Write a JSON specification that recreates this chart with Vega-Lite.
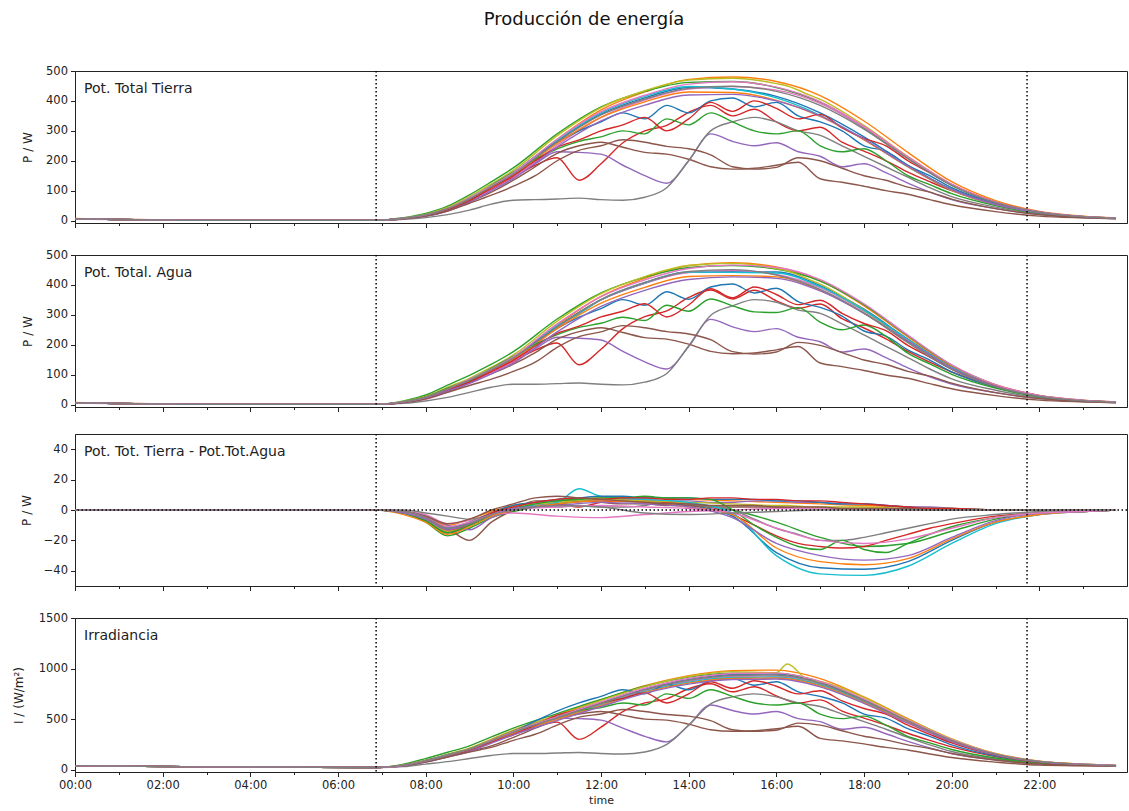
{
"$schema":"https://vega.github.io/schema/vega-lite/v6.json",
"padding":{"left":11,"top":10,"right":1,"bottom":0},
"title":{"text":"Producción de energía","fontSize":18,"font":"DejaVu Sans","fontWeight":"normal","color":"#111","anchor":"middle","offset":36,"dx":14},
"spacing":19,
"config":{"font":"DejaVu Sans","view":{"stroke":"#222","strokeWidth":1},
 "axis":{"grid":false,"domainColor":"#222","tickColor":"#222","labelColor":"#222","labelFontSize":11.5,"titleFontSize":12,"titleFontWeight":"normal","titleColor":"#222","labelFont":"DejaVu Sans","titleFont":"DejaVu Sans","labelPadding":3,"tickSize":4.5,"labelOverlap":false}},
"data":{"values":[
{"d":1,"t":0,"a":6,"b":6,"c":0,"i":40},{"d":1,"t":3,"a":1,"b":1,"c":0,"i":28},{"d":1,"t":6.9,"a":1,"b":1,"c":0,"i":22},{"d":1,"t":7.5,"a":8,"b":10,"c":-2,"i":43},{"d":1,"t":8,"a":19,"b":26,"c":-7,"i":88},{"d":1,"t":8.5,"a":40,"b":55,"c":-15,"i":144},{"d":1,"t":9,"a":74,"b":84,"c":-10,"i":202},{"d":1,"t":9.5,"a":114,"b":118,"c":-4,"i":288},{"d":1,"t":10,"a":157,"b":157,"c":0,"i":374},{"d":1,"t":11,"a":266,"b":262,"c":4,"i":518},{"d":1,"t":12,"a":356,"b":350,"c":6,"i":662},{"d":1,"t":13,"a":410,"b":405,"c":5,"i":797},{"d":1,"t":14,"a":445,"b":442,"c":3,"i":893},{"d":1,"t":15,"a":440,"b":444,"c":-4,"i":941},{"d":1,"t":16,"a":415,"b":443,"c":-28,"i":946},{"d":1,"t":17,"a":360,"b":398,"c":-38,"i":864},{"d":1,"t":18,"a":280,"b":319,"c":-39,"i":691},{"d":1,"t":19,"a":185,"b":219,"c":-34,"i":485},{"d":1,"t":20,"a":105,"b":125,"c":-20,"i":293},{"d":1,"t":21,"a":55,"b":63,"c":-8,"i":154},{"d":1,"t":22,"a":27,"b":30,"c":-3,"i":82},{"d":1,"t":23,"a":12,"b":13,"c":-1,"i":53},{"d":1,"t":23.75,"a":8,"b":8,"c":0,"i":41},
{"d":2,"t":0,"a":7,"b":7,"c":0,"i":40},{"d":2,"t":3,"a":1,"b":1,"c":0,"i":28},{"d":2,"t":6.9,"a":1,"b":1,"c":0,"i":22},{"d":2,"t":7.5,"a":7,"b":8,"c":-1,"i":45},{"d":2,"t":8,"a":18,"b":22,"c":-4,"i":92},{"d":2,"t":8.5,"a":38,"b":48,"c":-10,"i":150},{"d":2,"t":9,"a":72,"b":78,"c":-6,"i":210},{"d":2,"t":9.5,"a":114,"b":115,"c":-1,"i":300},{"d":2,"t":10,"a":158,"b":155,"c":3,"i":390},{"d":2,"t":11,"a":272,"b":266,"c":6,"i":540},{"d":2,"t":12,"a":370,"b":362,"c":8,"i":690},{"d":2,"t":13,"a":430,"b":422,"c":8,"i":830},{"d":2,"t":14,"a":472,"b":465,"c":7,"i":930},{"d":2,"t":15,"a":480,"b":474,"c":6,"i":980},{"d":2,"t":16,"a":465,"b":460,"c":5,"i":985},{"d":2,"t":17,"a":418,"b":414,"c":4,"i":900},{"d":2,"t":18,"a":333,"b":330,"c":3,"i":720},{"d":2,"t":19,"a":228,"b":226,"c":2,"i":505},{"d":2,"t":20,"a":130,"b":129,"c":1,"i":305},{"d":2,"t":21,"a":67,"b":67,"c":0,"i":160},{"d":2,"t":22,"a":31,"b":31,"c":0,"i":85},{"d":2,"t":23,"a":15,"b":15,"c":0,"i":55},{"d":2,"t":23.75,"a":9,"b":9,"c":0,"i":42},
{"d":3,"t":0,"a":6,"b":6,"c":0,"i":40},{"d":3,"t":3,"a":1,"b":1,"c":0,"i":28},{"d":3,"t":6.9,"a":1,"b":1,"c":0,"i":22},{"d":3,"t":7.5,"a":10,"b":12,"c":-2,"i":55},{"d":3,"t":8,"a":24,"b":32,"c":-8,"i":110},{"d":3,"t":8.5,"a":48,"b":65,"c":-17,"i":172},{"d":3,"t":9,"a":86,"b":98,"c":-12,"i":235},{"d":3,"t":9.5,"a":130,"b":135,"c":-5,"i":325},{"d":3,"t":10,"a":176,"b":177,"c":-1,"i":410},{"d":3,"t":11,"a":290,"b":286,"c":4,"i":555},{"d":3,"t":12,"a":380,"b":373,"c":7,"i":695},{"d":3,"t":13,"a":432,"b":426,"c":6,"i":825},{"d":3,"t":14,"a":462,"b":458,"c":4,"i":915},{"d":3,"t":15,"a":465,"b":465,"c":0,"i":955},{"d":3,"t":16,"a":445,"b":453,"c":-8,"i":955},{"d":3,"t":17,"a":395,"b":413,"c":-18,"i":870},{"d":3,"t":18,"a":310,"b":334,"c":-24,"i":690},{"d":3,"t":19,"a":208,"b":230,"c":-22,"i":480},{"d":3,"t":20,"a":118,"b":132,"c":-14,"i":288},{"d":3,"t":21,"a":60,"b":66,"c":-6,"i":150},{"d":3,"t":22,"a":28,"b":30,"c":-2,"i":80},{"d":3,"t":23,"a":13,"b":14,"c":-1,"i":52},{"d":3,"t":23.75,"a":8,"b":8,"c":0,"i":41},
{"d":4,"t":0,"a":6,"b":6,"c":0,"i":40},{"d":4,"t":3,"a":1,"b":1,"c":0,"i":28},{"d":4,"t":6.9,"a":1,"b":1,"c":0,"i":22},{"d":4,"t":7.5,"a":7,"b":9,"c":-2,"i":42},{"d":4,"t":8,"a":17,"b":23,"c":-6,"i":85},{"d":4,"t":8.5,"a":36,"b":50,"c":-14,"i":140},{"d":4,"t":9,"a":66,"b":75,"c":-9,"i":195},{"d":4,"t":9.5,"a":105,"b":108,"c":-3,"i":270},{"d":4,"t":10,"a":145,"b":144,"c":1,"i":345},{"d":4,"t":10.5,"a":185,"b":182,"c":3,"i":420},{"d":4,"t":11,"a":210,"b":206,"c":4,"i":470},{"d":4,"t":11.5,"a":135,"b":133,"c":2,"i":300},{"d":4,"t":12,"a":190,"b":185,"c":5,"i":420},{"d":4,"t":12.5,"a":260,"b":254,"c":6,"i":575},{"d":4,"t":13,"a":300,"b":294,"c":6,"i":660},{"d":4,"t":13.5,"a":318,"b":313,"c":5,"i":700},{"d":4,"t":14,"a":362,"b":358,"c":4,"i":800},{"d":4,"t":14.5,"a":385,"b":383,"c":2,"i":850},{"d":4,"t":15,"a":350,"b":353,"c":-3,"i":770},{"d":4,"t":15.5,"a":372,"b":382,"c":-10,"i":820},{"d":4,"t":16,"a":330,"b":347,"c":-17,"i":730},{"d":4,"t":16.5,"a":300,"b":322,"c":-22,"i":660},{"d":4,"t":17,"a":312,"b":336,"c":-24,"i":690},{"d":4,"t":17.5,"a":262,"b":287,"c":-25,"i":580},{"d":4,"t":18,"a":232,"b":256,"c":-24,"i":510},{"d":4,"t":18.5,"a":200,"b":220,"c":-20,"i":440},{"d":4,"t":19,"a":162,"b":178,"c":-16,"i":360},{"d":4,"t":19.5,"a":130,"b":142,"c":-12,"i":290},{"d":4,"t":20,"a":100,"b":109,"c":-9,"i":225},{"d":4,"t":21,"a":55,"b":59,"c":-4,"i":130},{"d":4,"t":22,"a":26,"b":28,"c":-2,"i":70},{"d":4,"t":23,"a":12,"b":13,"c":-1,"i":50},{"d":4,"t":23.75,"a":8,"b":8,"c":0,"i":40},
{"d":5,"t":0,"a":6,"b":6,"c":0,"i":40},{"d":5,"t":3,"a":1,"b":1,"c":0,"i":28},{"d":5,"t":6.9,"a":1,"b":1,"c":0,"i":22},{"d":5,"t":7.5,"a":7,"b":8,"c":-1,"i":42},{"d":5,"t":8,"a":17,"b":21,"c":-4,"i":85},{"d":5,"t":8.5,"a":36,"b":46,"c":-10,"i":140},{"d":5,"t":9,"a":66,"b":79,"c":-13,"i":195},{"d":5,"t":9.5,"a":110,"b":115,"c":-5,"i":275},{"d":5,"t":10,"a":150,"b":150,"c":0,"i":355},{"d":5,"t":10.5,"a":190,"b":187,"c":3,"i":430},{"d":5,"t":11,"a":230,"b":225,"c":5,"i":510},{"d":5,"t":11.5,"a":228,"b":222,"c":6,"i":505},{"d":5,"t":12,"a":222,"b":216,"c":6,"i":490},{"d":5,"t":12.5,"a":185,"b":178,"c":7,"i":410},{"d":5,"t":13,"a":150,"b":143,"c":7,"i":330},{"d":5,"t":13.5,"a":125,"b":119,"c":6,"i":275},{"d":5,"t":14,"a":200,"b":194,"c":6,"i":440},{"d":5,"t":14.5,"a":290,"b":285,"c":5,"i":640},{"d":5,"t":15,"a":265,"b":260,"c":5,"i":585},{"d":5,"t":15.5,"a":250,"b":244,"c":6,"i":550},{"d":5,"t":16,"a":260,"b":254,"c":6,"i":575},{"d":5,"t":16.5,"a":230,"b":225,"c":5,"i":505},{"d":5,"t":17,"a":215,"b":210,"c":5,"i":475},{"d":5,"t":17.5,"a":180,"b":176,"c":4,"i":400},{"d":5,"t":18,"a":190,"b":186,"c":4,"i":420},{"d":5,"t":18.5,"a":160,"b":157,"c":3,"i":355},{"d":5,"t":19,"a":125,"b":123,"c":2,"i":280},{"d":5,"t":19.5,"a":95,"b":93,"c":2,"i":215},{"d":5,"t":20,"a":70,"b":69,"c":1,"i":160},{"d":5,"t":21,"a":40,"b":40,"c":0,"i":95},{"d":5,"t":22,"a":20,"b":20,"c":0,"i":55},{"d":5,"t":23,"a":10,"b":10,"c":0,"i":45},{"d":5,"t":23.75,"a":7,"b":7,"c":0,"i":38},
{"d":6,"t":0,"a":6,"b":6,"c":0,"i":40},{"d":6,"t":3,"a":1,"b":1,"c":0,"i":28},{"d":6,"t":6.9,"a":1,"b":1,"c":0,"i":22},{"d":6,"t":7.5,"a":7,"b":8,"c":-1,"i":40},{"d":6,"t":8,"a":16,"b":21,"c":-5,"i":82},{"d":6,"t":8.5,"a":34,"b":46,"c":-12,"i":135},{"d":6,"t":9,"a":62,"b":82,"c":-20,"i":185},{"d":6,"t":9.5,"a":95,"b":103,"c":-8,"i":235},{"d":6,"t":10,"a":135,"b":135,"c":0,"i":320},{"d":6,"t":10.5,"a":180,"b":174,"c":6,"i":410},{"d":6,"t":11,"a":225,"b":219,"c":6,"i":500},{"d":6,"t":11.5,"a":250,"b":244,"c":6,"i":550},{"d":6,"t":12,"a":262,"b":257,"c":5,"i":575},{"d":6,"t":12.5,"a":245,"b":241,"c":4,"i":540},{"d":6,"t":13,"a":228,"b":224,"c":4,"i":500},{"d":6,"t":13.5,"a":222,"b":219,"c":3,"i":490},{"d":6,"t":14,"a":205,"b":202,"c":3,"i":450},{"d":6,"t":14.5,"a":180,"b":178,"c":2,"i":395},{"d":6,"t":15,"a":172,"b":170,"c":2,"i":380},{"d":6,"t":15.5,"a":175,"b":173,"c":2,"i":385},{"d":6,"t":16,"a":185,"b":183,"c":2,"i":405},{"d":6,"t":16.5,"a":195,"b":194,"c":1,"i":430},{"d":6,"t":17,"a":140,"b":139,"c":1,"i":310},{"d":6,"t":17.5,"a":128,"b":127,"c":1,"i":285},{"d":6,"t":18,"a":115,"b":114,"c":1,"i":255},{"d":6,"t":18.5,"a":100,"b":99,"c":1,"i":220},{"d":6,"t":19,"a":88,"b":88,"c":0,"i":195},{"d":6,"t":19.5,"a":70,"b":70,"c":0,"i":155},{"d":6,"t":20,"a":53,"b":53,"c":0,"i":120},{"d":6,"t":21,"a":30,"b":30,"c":0,"i":75},{"d":6,"t":22,"a":15,"b":15,"c":0,"i":45},{"d":6,"t":23,"a":9,"b":9,"c":0,"i":38},{"d":6,"t":23.75,"a":6,"b":6,"c":0,"i":35},
{"d":7,"t":0,"a":6,"b":6,"c":0,"i":40},{"d":7,"t":3,"a":1,"b":1,"c":0,"i":28},{"d":7,"t":6.9,"a":1,"b":1,"c":0,"i":22},{"d":7,"t":7.5,"a":6,"b":7,"c":-1,"i":38},{"d":7,"t":8,"a":15,"b":18,"c":-3,"i":78},{"d":7,"t":8.5,"a":33,"b":42,"c":-9,"i":130},{"d":7,"t":9,"a":64,"b":71,"c":-7,"i":185},{"d":7,"t":9.5,"a":102,"b":105,"c":-3,"i":270},{"d":7,"t":10,"a":143,"b":145,"c":-2,"i":355},{"d":7,"t":11,"a":252,"b":256,"c":-4,"i":500},{"d":7,"t":12,"a":345,"b":350,"c":-5,"i":645},{"d":7,"t":13,"a":403,"b":406,"c":-3,"i":780},{"d":7,"t":14,"a":440,"b":441,"c":-1,"i":874},{"d":7,"t":15,"a":448,"b":448,"c":0,"i":921},{"d":7,"t":16,"a":436,"b":435,"c":1,"i":926},{"d":7,"t":17,"a":392,"b":391,"c":1,"i":846},{"d":7,"t":18,"a":312,"b":312,"c":0,"i":677},{"d":7,"t":19,"a":214,"b":214,"c":0,"i":475},{"d":7,"t":20,"a":122,"b":122,"c":0,"i":287},{"d":7,"t":21,"a":62,"b":62,"c":0,"i":150},{"d":7,"t":22,"a":29,"b":29,"c":0,"i":80},{"d":7,"t":23,"a":13,"b":13,"c":0,"i":52},{"d":7,"t":23.75,"a":9,"b":9,"c":0,"i":40},
{"d":8,"t":0,"a":6,"b":6,"c":0,"i":40},{"d":8,"t":3,"a":1,"b":1,"c":0,"i":28},{"d":8,"t":6.9,"a":1,"b":1,"c":0,"i":22},{"d":8,"t":7.5,"a":4,"b":4,"c":0,"i":30},{"d":8,"t":8,"a":10,"b":12,"c":-2,"i":55},{"d":8,"t":8.5,"a":20,"b":24,"c":-4,"i":80},{"d":8,"t":9,"a":35,"b":41,"c":-6,"i":110},{"d":8,"t":9.5,"a":55,"b":58,"c":-3,"i":140},{"d":8,"t":10,"a":68,"b":68,"c":0,"i":160},{"d":8,"t":10.5,"a":70,"b":68,"c":2,"i":160},{"d":8,"t":11,"a":72,"b":70,"c":2,"i":165},{"d":8,"t":11.5,"a":75,"b":72,"c":3,"i":170},{"d":8,"t":12,"a":70,"b":68,"c":2,"i":160},{"d":8,"t":12.5,"a":68,"b":66,"c":2,"i":155},{"d":8,"t":13,"a":78,"b":75,"c":3,"i":175},{"d":8,"t":13.5,"a":110,"b":104,"c":6,"i":250},{"d":8,"t":14,"a":200,"b":196,"c":4,"i":440},{"d":8,"t":14.5,"a":300,"b":298,"c":2,"i":650},{"d":8,"t":15,"a":330,"b":330,"c":0,"i":720},{"d":8,"t":15.5,"a":345,"b":351,"c":-6,"i":750},{"d":8,"t":16,"a":330,"b":342,"c":-12,"i":720},{"d":8,"t":16.5,"a":300,"b":316,"c":-16,"i":660},{"d":8,"t":17,"a":285,"b":305,"c":-20,"i":625},{"d":8,"t":17.5,"a":250,"b":270,"c":-20,"i":550},{"d":8,"t":18,"a":215,"b":233,"c":-18,"i":475},{"d":8,"t":18.5,"a":180,"b":195,"c":-15,"i":400},{"d":8,"t":19,"a":145,"b":157,"c":-12,"i":320},{"d":8,"t":19.5,"a":110,"b":119,"c":-9,"i":245},{"d":8,"t":20,"a":80,"b":86,"c":-6,"i":180},{"d":8,"t":21,"a":45,"b":48,"c":-3,"i":105},{"d":8,"t":22,"a":22,"b":23,"c":-1,"i":60},{"d":8,"t":23,"a":11,"b":11,"c":0,"i":45},{"d":8,"t":23.75,"a":8,"b":8,"c":0,"i":38},
{"d":9,"t":0,"a":6,"b":6,"c":0,"i":40},{"d":9,"t":3,"a":1,"b":1,"c":0,"i":28},{"d":9,"t":6.9,"a":1,"b":1,"c":0,"i":22},{"d":9,"t":7.5,"a":9,"b":11,"c":-2,"i":46},{"d":9,"t":8,"a":21,"b":27,"c":-6,"i":94},{"d":9,"t":8.5,"a":44,"b":58,"c":-14,"i":152},{"d":9,"t":9,"a":80,"b":88,"c":-8,"i":212},{"d":9,"t":9.5,"a":123,"b":125,"c":-2,"i":300},{"d":9,"t":10,"a":168,"b":166,"c":2,"i":388},{"d":9,"t":11,"a":284,"b":279,"c":5,"i":535},{"d":9,"t":12,"a":378,"b":371,"c":7,"i":683},{"d":9,"t":13,"a":434,"b":428,"c":6,"i":822},{"d":9,"t":14,"a":470,"b":465,"c":5,"i":921},{"d":9,"t":15,"a":476,"b":472,"c":4,"i":970},{"d":9,"t":16,"a":458,"b":455,"c":3,"i":960},{"d":9,"t":16.25,"a":450,"b":447,"c":3,"i":1045},{"d":9,"t":16.75,"a":420,"b":418,"c":2,"i":880},{"d":9,"t":17,"a":405,"b":403,"c":2,"i":870},{"d":9,"t":18,"a":318,"b":316,"c":2,"i":713},{"d":9,"t":19,"a":214,"b":213,"c":1,"i":500},{"d":9,"t":20,"a":121,"b":120,"c":1,"i":302},{"d":9,"t":21,"a":62,"b":62,"c":0,"i":158},{"d":9,"t":22,"a":29,"b":29,"c":0,"i":84},{"d":9,"t":23,"a":14,"b":14,"c":0,"i":54},{"d":9,"t":23.75,"a":9,"b":9,"c":0,"i":42},
{"d":10,"t":0,"a":6,"b":6,"c":0,"i":40},{"d":10,"t":3,"a":1,"b":1,"c":0,"i":28},{"d":10,"t":6.9,"a":1,"b":1,"c":0,"i":22},{"d":10,"t":7.5,"a":8,"b":10,"c":-2,"i":42},{"d":10,"t":8,"a":19,"b":25,"c":-6,"i":86},{"d":10,"t":8.5,"a":40,"b":52,"c":-12,"i":140},{"d":10,"t":9,"a":75,"b":84,"c":-9,"i":195},{"d":10,"t":9.5,"a":115,"b":118,"c":-3,"i":279},{"d":10,"t":10,"a":158,"b":157,"c":1,"i":363},{"d":10,"t":11,"a":269,"b":264,"c":5,"i":502},{"d":10,"t":11.5,"a":318,"b":304,"c":14,"i":575},{"d":10,"t":12,"a":360,"b":351,"c":9,"i":642},{"d":10,"t":13,"a":415,"b":408,"c":7,"i":772},{"d":10,"t":14,"a":448,"b":443,"c":5,"i":865},{"d":10,"t":15,"a":440,"b":442,"c":-2,"i":911},{"d":10,"t":16,"a":410,"b":440,"c":-30,"i":916},{"d":10,"t":17,"a":352,"b":394,"c":-42,"i":837},{"d":10,"t":18,"a":272,"b":315,"c":-43,"i":670},{"d":10,"t":19,"a":180,"b":217,"c":-37,"i":470},{"d":10,"t":20,"a":102,"b":124,"c":-22,"i":284},{"d":10,"t":21,"a":53,"b":62,"c":-9,"i":149},{"d":10,"t":22,"a":26,"b":29,"c":-3,"i":79},{"d":10,"t":23,"a":12,"b":13,"c":-1,"i":51},{"d":10,"t":23.75,"a":8,"b":8,"c":0,"i":40},
{"d":11,"t":0,"a":6,"b":6,"c":0,"i":40},{"d":11,"t":3,"a":1,"b":1,"c":0,"i":28},{"d":11,"t":6.9,"a":1,"b":1,"c":0,"i":22},{"d":11,"t":7.5,"a":7,"b":8,"c":-1,"i":42},{"d":11,"t":8,"a":17,"b":22,"c":-5,"i":85},{"d":11,"t":8.5,"a":36,"b":48,"c":-12,"i":140},{"d":11,"t":9,"a":66,"b":74,"c":-8,"i":195},{"d":11,"t":9.5,"a":115,"b":117,"c":-2,"i":285},{"d":11,"t":10,"a":160,"b":157,"c":3,"i":375},{"d":11,"t":10.5,"a":215,"b":210,"c":5,"i":480},{"d":11,"t":11,"a":262,"b":255,"c":7,"i":580},{"d":11,"t":11.5,"a":300,"b":292,"c":8,"i":660},{"d":11,"t":12,"a":330,"b":321,"c":9,"i":725},{"d":11,"t":12.5,"a":360,"b":351,"c":9,"i":790},{"d":11,"t":13,"a":340,"b":332,"c":8,"i":750},{"d":11,"t":13.5,"a":385,"b":377,"c":8,"i":845},{"d":11,"t":14,"a":360,"b":352,"c":8,"i":790},{"d":11,"t":14.5,"a":400,"b":393,"c":7,"i":880},{"d":11,"t":15,"a":410,"b":403,"c":7,"i":900},{"d":11,"t":15.5,"a":380,"b":373,"c":7,"i":835},{"d":11,"t":16,"a":395,"b":389,"c":6,"i":870},{"d":11,"t":16.5,"a":350,"b":344,"c":6,"i":770},{"d":11,"t":17,"a":330,"b":325,"c":5,"i":725},{"d":11,"t":17.5,"a":300,"b":296,"c":4,"i":660},{"d":11,"t":18,"a":250,"b":246,"c":4,"i":550},{"d":11,"t":18.5,"a":232,"b":229,"c":3,"i":510},{"d":11,"t":19,"a":185,"b":183,"c":2,"i":405},{"d":11,"t":19.5,"a":150,"b":149,"c":1,"i":330},{"d":11,"t":20,"a":110,"b":109,"c":1,"i":245},{"d":11,"t":21,"a":58,"b":58,"c":0,"i":135},{"d":11,"t":22,"a":28,"b":28,"c":0,"i":72},{"d":11,"t":23,"a":13,"b":13,"c":0,"i":50},{"d":11,"t":23.75,"a":9,"b":9,"c":0,"i":40},
{"d":12,"t":0,"a":6,"b":6,"c":0,"i":40},{"d":12,"t":3,"a":1,"b":1,"c":0,"i":28},{"d":12,"t":6.9,"a":1,"b":1,"c":0,"i":22},{"d":12,"t":7.5,"a":7,"b":10,"c":-3,"i":41},{"d":12,"t":8,"a":18,"b":26,"c":-8,"i":85},{"d":12,"t":8.5,"a":38,"b":54,"c":-16,"i":138},{"d":12,"t":9,"a":72,"b":83,"c":-11,"i":193},{"d":12,"t":9.5,"a":110,"b":114,"c":-4,"i":276},{"d":12,"t":10,"a":152,"b":152,"c":0,"i":359},{"d":12,"t":11,"a":258,"b":254,"c":4,"i":497},{"d":12,"t":12,"a":345,"b":339,"c":6,"i":635},{"d":12,"t":13,"a":397,"b":392,"c":5,"i":764},{"d":12,"t":14,"a":430,"b":428,"c":2,"i":856},{"d":12,"t":15,"a":428,"b":431,"c":-3,"i":902},{"d":12,"t":16,"a":402,"b":427,"c":-25,"i":906},{"d":12,"t":17,"a":348,"b":382,"c":-34,"i":828},{"d":12,"t":18,"a":270,"b":306,"c":-36,"i":662},{"d":12,"t":19,"a":180,"b":212,"c":-32,"i":465},{"d":12,"t":20,"a":102,"b":121,"c":-19,"i":281},{"d":12,"t":21,"a":53,"b":61,"c":-8,"i":147},{"d":12,"t":22,"a":26,"b":29,"c":-3,"i":78},{"d":12,"t":23,"a":12,"b":13,"c":-1,"i":51},{"d":12,"t":23.75,"a":8,"b":8,"c":0,"i":40},
{"d":13,"t":0,"a":6,"b":6,"c":0,"i":40},{"d":13,"t":3,"a":1,"b":1,"c":0,"i":28},{"d":13,"t":6.9,"a":1,"b":1,"c":0,"i":22},{"d":13,"t":7.5,"a":8,"b":10,"c":-2,"i":46},{"d":13,"t":8,"a":19,"b":26,"c":-7,"i":92},{"d":13,"t":8.5,"a":40,"b":55,"c":-15,"i":150},{"d":13,"t":9,"a":72,"b":82,"c":-10,"i":205},{"d":13,"t":9.5,"a":118,"b":121,"c":-3,"i":290},{"d":13,"t":10,"a":162,"b":161,"c":1,"i":380},{"d":13,"t":10.5,"a":205,"b":201,"c":4,"i":450},{"d":13,"t":11,"a":240,"b":234,"c":6,"i":530},{"d":13,"t":11.5,"a":265,"b":258,"c":7,"i":585},{"d":13,"t":12,"a":280,"b":272,"c":8,"i":615},{"d":13,"t":12.5,"a":300,"b":292,"c":8,"i":660},{"d":13,"t":13,"a":290,"b":281,"c":9,"i":640},{"d":13,"t":13.5,"a":340,"b":332,"c":8,"i":750},{"d":13,"t":14,"a":320,"b":312,"c":8,"i":705},{"d":13,"t":14.5,"a":360,"b":353,"c":7,"i":790},{"d":13,"t":15,"a":330,"b":330,"c":0,"i":725},{"d":13,"t":15.5,"a":300,"b":310,"c":-10,"i":660},{"d":13,"t":16,"a":290,"b":308,"c":-18,"i":640},{"d":13,"t":16.5,"a":300,"b":324,"c":-24,"i":660},{"d":13,"t":17,"a":250,"b":276,"c":-26,"i":550},{"d":13,"t":17.5,"a":230,"b":250,"c":-20,"i":505},{"d":13,"t":18,"a":240,"b":266,"c":-26,"i":530},{"d":13,"t":18.5,"a":200,"b":228,"c":-28,"i":440},{"d":13,"t":19,"a":150,"b":172,"c":-22,"i":330},{"d":13,"t":19.5,"a":120,"b":136,"c":-16,"i":265},{"d":13,"t":20,"a":90,"b":101,"c":-11,"i":200},{"d":13,"t":21,"a":50,"b":55,"c":-5,"i":115},{"d":13,"t":22,"a":24,"b":26,"c":-2,"i":65},{"d":13,"t":23,"a":12,"b":13,"c":-1,"i":48},{"d":13,"t":23.75,"a":8,"b":8,"c":0,"i":38},
{"d":14,"t":0,"a":6,"b":6,"c":0,"i":40},{"d":14,"t":3,"a":1,"b":1,"c":0,"i":28},{"d":14,"t":6.9,"a":1,"b":1,"c":0,"i":22},{"d":14,"t":7.5,"a":7,"b":8,"c":-1,"i":42},{"d":14,"t":8,"a":17,"b":22,"c":-5,"i":85},{"d":14,"t":8.5,"a":36,"b":49,"c":-13,"i":140},{"d":14,"t":9,"a":66,"b":75,"c":-9,"i":195},{"d":14,"t":9.5,"a":110,"b":112,"c":-2,"i":270},{"d":14,"t":10,"a":150,"b":148,"c":2,"i":350},{"d":14,"t":10.5,"a":200,"b":195,"c":5,"i":440},{"d":14,"t":11,"a":245,"b":238,"c":7,"i":540},{"d":14,"t":11.5,"a":270,"b":262,"c":8,"i":595},{"d":14,"t":12,"a":300,"b":293,"c":7,"i":660},{"d":14,"t":12.5,"a":320,"b":312,"c":8,"i":705},{"d":14,"t":13,"a":345,"b":337,"c":8,"i":760},{"d":14,"t":13.5,"a":300,"b":293,"c":7,"i":660},{"d":14,"t":14,"a":340,"b":333,"c":7,"i":750},{"d":14,"t":14.5,"a":395,"b":387,"c":8,"i":870},{"d":14,"t":15,"a":365,"b":357,"c":8,"i":805},{"d":14,"t":15.5,"a":400,"b":393,"c":7,"i":880},{"d":14,"t":16,"a":375,"b":368,"c":7,"i":825},{"d":14,"t":16.5,"a":340,"b":334,"c":6,"i":750},{"d":14,"t":17,"a":355,"b":349,"c":6,"i":780},{"d":14,"t":17.5,"a":310,"b":305,"c":5,"i":680},{"d":14,"t":18,"a":275,"b":271,"c":4,"i":605},{"d":14,"t":18.5,"a":250,"b":247,"c":3,"i":550},{"d":14,"t":19,"a":200,"b":198,"c":2,"i":440},{"d":14,"t":19.5,"a":160,"b":159,"c":1,"i":350},{"d":14,"t":20,"a":120,"b":119,"c":1,"i":265},{"d":14,"t":21,"a":62,"b":62,"c":0,"i":145},{"d":14,"t":22,"a":29,"b":29,"c":0,"i":75},{"d":14,"t":23,"a":13,"b":13,"c":0,"i":50},{"d":14,"t":23.75,"a":9,"b":9,"c":0,"i":40},
{"d":15,"t":0,"a":5,"b":5,"c":0,"i":40},{"d":15,"t":3,"a":1,"b":1,"c":0,"i":28},{"d":15,"t":6.9,"a":1,"b":1,"c":0,"i":22},{"d":15,"t":7.5,"a":6,"b":8,"c":-2,"i":37},{"d":15,"t":8,"a":15,"b":21,"c":-6,"i":76},{"d":15,"t":8.5,"a":32,"b":45,"c":-13,"i":125},{"d":15,"t":9,"a":62,"b":71,"c":-9,"i":180},{"d":15,"t":9.5,"a":100,"b":103,"c":-3,"i":262},{"d":15,"t":10,"a":140,"b":139,"c":1,"i":345},{"d":15,"t":11,"a":246,"b":243,"c":3,"i":485},{"d":15,"t":12,"a":333,"b":328,"c":5,"i":625},{"d":15,"t":13,"a":386,"b":382,"c":4,"i":755},{"d":15,"t":14,"a":420,"b":418,"c":2,"i":846},{"d":15,"t":15,"a":422,"b":427,"c":-5,"i":892},{"d":15,"t":16,"a":400,"b":422,"c":-22,"i":896},{"d":15,"t":17,"a":350,"b":380,"c":-30,"i":819},{"d":15,"t":18,"a":272,"b":305,"c":-33,"i":655},{"d":15,"t":19,"a":182,"b":212,"c":-30,"i":460},{"d":15,"t":20,"a":104,"b":122,"c":-18,"i":278},{"d":15,"t":21,"a":54,"b":61,"c":-7,"i":146},{"d":15,"t":22,"a":26,"b":28,"c":-2,"i":78},{"d":15,"t":23,"a":12,"b":13,"c":-1,"i":50},{"d":15,"t":23.75,"a":8,"b":8,"c":0,"i":40},
{"d":16,"t":0,"a":6,"b":6,"c":0,"i":40},{"d":16,"t":3,"a":1,"b":1,"c":0,"i":28},{"d":16,"t":6.9,"a":1,"b":1,"c":0,"i":22},{"d":16,"t":7.5,"a":6,"b":7,"c":-1,"i":38},{"d":16,"t":8,"a":15,"b":19,"c":-4,"i":75},{"d":16,"t":8.5,"a":32,"b":41,"c":-9,"i":125},{"d":16,"t":9,"a":58,"b":64,"c":-6,"i":175},{"d":16,"t":9.5,"a":85,"b":85,"c":0,"i":220},{"d":16,"t":10,"a":115,"b":111,"c":4,"i":290},{"d":16,"t":10.5,"a":150,"b":142,"c":8,"i":350},{"d":16,"t":11,"a":200,"b":191,"c":9,"i":440},{"d":16,"t":11.5,"a":235,"b":227,"c":8,"i":520},{"d":16,"t":12,"a":250,"b":243,"c":7,"i":550},{"d":16,"t":12.5,"a":270,"b":264,"c":6,"i":595},{"d":16,"t":13,"a":262,"b":257,"c":5,"i":575},{"d":16,"t":13.5,"a":248,"b":244,"c":4,"i":545},{"d":16,"t":14,"a":240,"b":236,"c":4,"i":530},{"d":16,"t":14.5,"a":220,"b":217,"c":3,"i":485},{"d":16,"t":15,"a":180,"b":177,"c":3,"i":395},{"d":16,"t":15.5,"a":172,"b":169,"c":3,"i":380},{"d":16,"t":16,"a":178,"b":176,"c":2,"i":390},{"d":16,"t":16.5,"a":210,"b":208,"c":2,"i":460},{"d":16,"t":17,"a":200,"b":198,"c":2,"i":440},{"d":16,"t":17.5,"a":175,"b":174,"c":1,"i":385},{"d":16,"t":18,"a":150,"b":149,"c":1,"i":330},{"d":16,"t":18.5,"a":135,"b":134,"c":1,"i":295},{"d":16,"t":19,"a":112,"b":111,"c":1,"i":245},{"d":16,"t":19.5,"a":95,"b":95,"c":0,"i":210},{"d":16,"t":20,"a":72,"b":72,"c":0,"i":160},{"d":16,"t":21,"a":40,"b":40,"c":0,"i":95},{"d":16,"t":22,"a":20,"b":20,"c":0,"i":55},{"d":16,"t":23,"a":10,"b":10,"c":0,"i":42},{"d":16,"t":23.75,"a":7,"b":7,"c":0,"i":36},
{"d":17,"t":0,"a":6,"b":6,"c":0,"i":40},{"d":17,"t":3,"a":1,"b":1,"c":0,"i":28},{"d":17,"t":6.9,"a":1,"b":1,"c":0,"i":22},{"d":17,"t":7.5,"a":8,"b":9,"c":-1,"i":44},{"d":17,"t":8,"a":19,"b":24,"c":-5,"i":89},{"d":17,"t":8.5,"a":41,"b":52,"c":-11,"i":146},{"d":17,"t":9,"a":76,"b":84,"c":-8,"i":204},{"d":17,"t":9.5,"a":116,"b":119,"c":-3,"i":291},{"d":17,"t":10,"a":160,"b":160,"c":0,"i":378},{"d":17,"t":11,"a":272,"b":270,"c":2,"i":524},{"d":17,"t":12,"a":364,"b":361,"c":3,"i":669},{"d":17,"t":13,"a":419,"b":417,"c":2,"i":805},{"d":17,"t":14,"a":456,"b":455,"c":1,"i":902},{"d":17,"t":15,"a":464,"b":466,"c":-2,"i":951},{"d":17,"t":16,"a":446,"b":458,"c":-12,"i":955},{"d":17,"t":17,"a":398,"b":418,"c":-20,"i":873},{"d":17,"t":18,"a":315,"b":337,"c":-22,"i":698},{"d":17,"t":19,"a":213,"b":232,"c":-19,"i":490},{"d":17,"t":20,"a":121,"b":133,"c":-12,"i":296},{"d":17,"t":21,"a":62,"b":67,"c":-5,"i":155},{"d":17,"t":22,"a":29,"b":31,"c":-2,"i":82},{"d":17,"t":23,"a":14,"b":15,"c":-1,"i":53},{"d":17,"t":23.75,"a":9,"b":9,"c":0,"i":41},
{"d":18,"t":0,"a":6,"b":6,"c":0,"i":40},{"d":18,"t":3,"a":1,"b":1,"c":0,"i":28},{"d":18,"t":6.9,"a":1,"b":1,"c":0,"i":22},{"d":18,"t":7.5,"a":8,"b":9,"c":-1,"i":43},{"d":18,"t":8,"a":19,"b":24,"c":-5,"i":87},{"d":18,"t":8.5,"a":40,"b":52,"c":-12,"i":143},{"d":18,"t":9,"a":73,"b":82,"c":-9,"i":200},{"d":18,"t":9.5,"a":113,"b":116,"c":-3,"i":285},{"d":18,"t":10,"a":155,"b":155,"c":0,"i":371},{"d":18,"t":11,"a":263,"b":260,"c":3,"i":513},{"d":18,"t":12,"a":353,"b":351,"c":2,"i":656},{"d":18,"t":13,"a":406,"b":408,"c":-2,"i":789},{"d":18,"t":14,"a":442,"b":445,"c":-3,"i":884},{"d":18,"t":15,"a":449,"b":451,"c":-2,"i":931},{"d":18,"t":16,"a":432,"b":433,"c":-1,"i":936},{"d":18,"t":17,"a":385,"b":385,"c":0,"i":855},{"d":18,"t":18,"a":306,"b":306,"c":0,"i":684},{"d":18,"t":19,"a":207,"b":207,"c":0,"i":480},{"d":18,"t":20,"a":118,"b":118,"c":0,"i":290},{"d":18,"t":21,"a":60,"b":60,"c":0,"i":152},{"d":18,"t":22,"a":28,"b":28,"c":0,"i":81},{"d":18,"t":23,"a":13,"b":13,"c":0,"i":52},{"d":18,"t":23.75,"a":8,"b":8,"c":0,"i":40}
]},
"vconcat":[
{"width":1052,"height":152,"layer":[
 {"mark":{"type":"line","strokeWidth":1.4,"interpolate":"monotone"},
  "encoding":{
   "x":{"field":"t","type":"quantitative","scale":{"domain":[0,24],"nice":false},"axis":{"values":[0,1,2,3,4,5,6,7,8,9,10,11,12,13,14,15,16,17,18,19,20,21,22,23],"tickCount":30,"labels":false,"title":null,"tickSize":{"condition":{"test":"datum.value % 2 === 0","value":4.5},"value":2.5}}},
   "y":{"field":"a","type":"quantitative","scale":{"domain":[-8,500],"nice":false,"zero":false},"axis":{"values":[0,100,200,300,400,500],"tickCount":10,"format":"d","labelOverlap":false,"title":"P / W","titlePadding":11}},
   "color":{"field":"d","type":"nominal","scale":{"domain":[1,2,3,4,5,6,7,8,9,10,11,12,13,14,15,16,17,18],"range":["#1f77b4","#ff7f0e","#2ca02c","#d62728","#9467bd","#8c564b","#e377c2","#7f7f7f","#bcbd22","#17becf"]},"legend":null}}},
 {"data":{"values":[{"t":6.87},{"t":21.72}]},"mark":{"type":"rule","strokeDash":[1.5,2.5],"strokeWidth":1.5,"color":"black"},"encoding":{"x":{"field":"t","type":"quantitative"}}},
 {"data":{"values":[{"label":"Pot. Total Tierra"}]},"mark":{"type":"text","align":"left","baseline":"middle","dx":9,"dy":18,"fontSize":14,"color":"#222"},"encoding":{"x":{"datum":0,"type":"quantitative"},"y":{"datum":500,"type":"quantitative"},"text":{"field":"label"}}}
]},
{"width":1052,"height":152,"layer":[
 {"mark":{"type":"line","strokeWidth":1.4,"interpolate":"monotone"},
  "encoding":{
   "x":{"field":"t","type":"quantitative","scale":{"domain":[0,24],"nice":false},"axis":{"values":[0,1,2,3,4,5,6,7,8,9,10,11,12,13,14,15,16,17,18,19,20,21,22,23],"tickCount":30,"labels":false,"title":null,"tickSize":{"condition":{"test":"datum.value % 2 === 0","value":4.5},"value":2.5}}},
   "y":{"field":"b","type":"quantitative","scale":{"domain":[-8,500],"nice":false,"zero":false},"axis":{"values":[0,100,200,300,400,500],"tickCount":10,"format":"d","labelOverlap":false,"title":"P / W","titlePadding":11}},
   "color":{"field":"d","type":"nominal","scale":{"domain":[1,2,3,4,5,6,7,8,9,10,11,12,13,14,15,16,17,18],"range":["#1f77b4","#ff7f0e","#2ca02c","#d62728","#9467bd","#8c564b","#e377c2","#7f7f7f","#bcbd22","#17becf"]},"legend":null}}},
 {"data":{"values":[{"t":6.87},{"t":21.72}]},"mark":{"type":"rule","strokeDash":[1.5,2.5],"strokeWidth":1.5,"color":"black"},"encoding":{"x":{"field":"t","type":"quantitative"}}},
 {"data":{"values":[{"label":"Pot. Total. Agua"}]},"mark":{"type":"text","align":"left","baseline":"middle","dx":9,"dy":18,"fontSize":14,"color":"#222"},"encoding":{"x":{"datum":0,"type":"quantitative"},"y":{"datum":500,"type":"quantitative"},"text":{"field":"label"}}}
]},
{"width":1052,"height":152,"layer":[
 {"mark":{"type":"line","strokeWidth":1.4,"interpolate":"monotone"},
  "encoding":{
   "x":{"field":"t","type":"quantitative","scale":{"domain":[0,24],"nice":false},"axis":{"values":[0,1,2,3,4,5,6,7,8,9,10,11,12,13,14,15,16,17,18,19,20,21,22,23],"tickCount":30,"labels":false,"title":null,"tickSize":{"condition":{"test":"datum.value % 2 === 0","value":4.5},"value":2.5}}},
   "y":{"field":"c","type":"quantitative","scale":{"domain":[-50,50],"nice":false,"zero":false},"axis":{"values":[-40,-20,0,20,40],"tickCount":10,"format":"d","labelOverlap":false,"title":"P / W","titlePadding":10}},
   "color":{"field":"d","type":"nominal","scale":{"domain":[1,2,3,4,5,6,7,8,9,10,11,12,13,14,15,16,17,18],"range":["#1f77b4","#ff7f0e","#2ca02c","#d62728","#9467bd","#8c564b","#e377c2","#7f7f7f","#bcbd22","#17becf"]},"legend":null}}},
 {"data":{"values":[{"t":6.87},{"t":21.72}]},"mark":{"type":"rule","strokeDash":[1.5,2.5],"strokeWidth":1.5,"color":"black"},"encoding":{"x":{"field":"t","type":"quantitative"}}},
 {"data":{"values":[{"v":0}]},"mark":{"type":"rule","strokeDash":[1.5,2.5],"strokeWidth":1.5,"color":"black"},"encoding":{"y":{"field":"v","type":"quantitative"}}},
 {"data":{"values":[{"label":"Pot. Tot. Tierra - Pot.Tot.Agua"}]},"mark":{"type":"text","align":"left","baseline":"middle","dx":9,"dy":18,"fontSize":14,"color":"#222"},"encoding":{"x":{"datum":0,"type":"quantitative"},"y":{"datum":50,"type":"quantitative"},"text":{"field":"label"}}}
]},
{"width":1052,"height":154,"layer":[
 {"mark":{"type":"line","strokeWidth":1.4,"interpolate":"monotone"},
  "encoding":{
   "x":{"field":"t","type":"quantitative","scale":{"domain":[0,24],"nice":false},"axis":{"values":[0,1,2,3,4,5,6,7,8,9,10,11,12,13,14,15,16,17,18,19,20,21,22,23],"tickCount":30,"labelExpr":"datum.value % 2 === 0 ? (datum.value < 10 ? '0' : '') + datum.value + ':00' : ''","labelOverlap":false,"labelFlush":false,"title":"time","titleFontSize":11,"titlePadding":3,"tickSize":{"condition":{"test":"datum.value % 2 === 0","value":4.5},"value":2.5}}},
   "y":{"field":"i","type":"quantitative","scale":{"domain":[-23,1500],"nice":false,"zero":false},"axis":{"values":[0,500,1000,1500],"tickCount":10,"format":"d","labelOverlap":false,"title":"I / (W/m²)","titlePadding":13}},
   "color":{"field":"d","type":"nominal","scale":{"domain":[1,2,3,4,5,6,7,8,9,10,11,12,13,14,15,16,17,18],"range":["#1f77b4","#ff7f0e","#2ca02c","#d62728","#9467bd","#8c564b","#e377c2","#7f7f7f","#bcbd22","#17becf"]},"legend":null}}},
 {"data":{"values":[{"t":6.87},{"t":21.72}]},"mark":{"type":"rule","strokeDash":[1.5,2.5],"strokeWidth":1.5,"color":"black"},"encoding":{"x":{"field":"t","type":"quantitative"}}},
 {"data":{"values":[{"label":"Irradiancia"}]},"mark":{"type":"text","align":"left","baseline":"middle","dx":9,"dy":18,"fontSize":14,"color":"#222"},"encoding":{"x":{"datum":0,"type":"quantitative"},"y":{"datum":1500,"type":"quantitative"},"text":{"field":"label"}}}
]}
]
}
